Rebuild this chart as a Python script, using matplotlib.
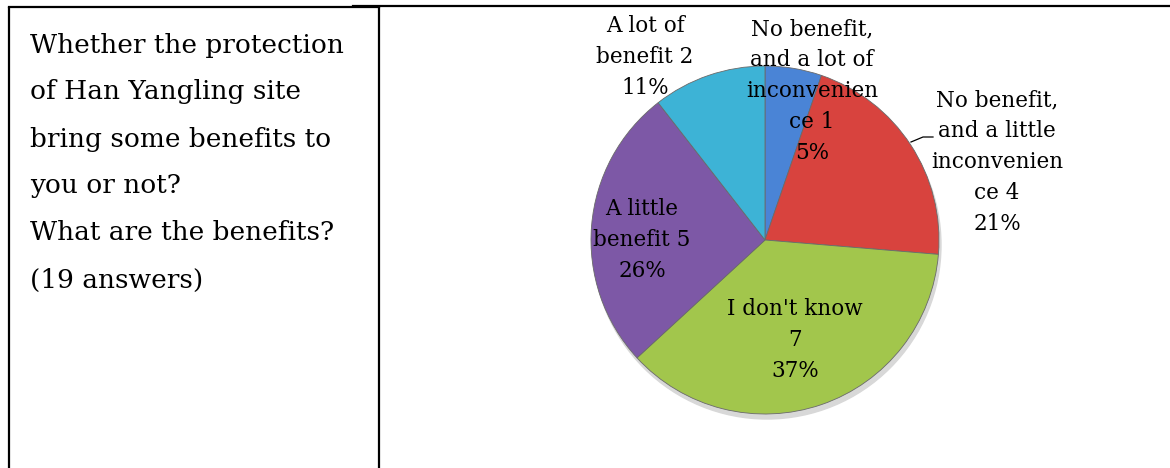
import matplotlib.pyplot as plt
from matplotlib.patches import Circle

# data
categories = [
    "No benefit,\nand a lot of\ninconvenien\nce",
    "No benefit,\nand a little\ninconvenien\nce",
    "I don't know\n",
    "A little\nbenefit",
    "A lot of\nbenefit",
]
counts = [1, 4, 7, 5, 2]
colors = ["#4a84d6", "#d8433e", "#a2c64c", "#7d58a6", "#3db3d6"]
question = [
    "Whether the protection",
    "of Han Yangling site",
    "bring some benefits to",
    "you or not?",
    "What are the benefits?",
    "(19 answers)",
]

W, H = 1170, 468
fig = plt.figure(figsize=(W / 100, H / 100), dpi=100)
ax = fig.add_axes([0, 0, 1, 1])

serif = "DejaVu Serif"

# table lines (pixel coords, y measured from top)
lw = 1.6
ax.plot([9, 9], [0, H - 7], color="black", lw=lw, solid_capstyle="butt")
ax.plot([379, 379], [0, H - 7], color="black", lw=lw, solid_capstyle="butt")
ax.plot([9, 379], [H - 7, H - 7], color="black", lw=lw)
ax.plot([353, W], [H - 5.5, H - 5.5], color="black", lw=lw)

for i, line in enumerate(question):
    ax.text(30, H - (45 + i * 47), line, fontsize=19, family=serif,
            ha="left", va="center")

# pie
cx, cy, r = 765, H - 240, 174
shadow = Circle((cx + 2, cy - 5), r, color="#d8d8d8", zorder=0)
ax.add_patch(shadow)
wedges, _ = ax.pie(
    counts,
    colors=colors,
    startangle=90,
    counterclock=False,
    center=(cx, cy),
    radius=r,
    frame=True,
    wedgeprops=dict(edgecolor="#6a6a6a", linewidth=0.6),
)

total = sum(counts)
sep = [" ", " ", "", " ", " "]
labels = [
    f"{c}{s}{n}\n{round(100 * n / total)}%"
    for c, s, n in zip(categories, sep, counts)
]

label_pos = [(812, 91), (997, 162), (795, 340), (642, 240), (645, 57)]
for lab, (x, y) in zip(labels, label_pos):
    ax.text(x, H - y, lab, fontsize=15.5, family=serif, ha="center",
            va="center", linespacing=1.52)

# leader line for the red slice label
ax.plot([911, 923, 933], [H - 142, H - 137, H - 137], color="black", lw=0.9)

ax.set_xlim(0, W)
ax.set_ylim(0, H)
ax.set_aspect("equal")
ax.set_axis_off()

fig.savefig("out.png", dpi=100)
